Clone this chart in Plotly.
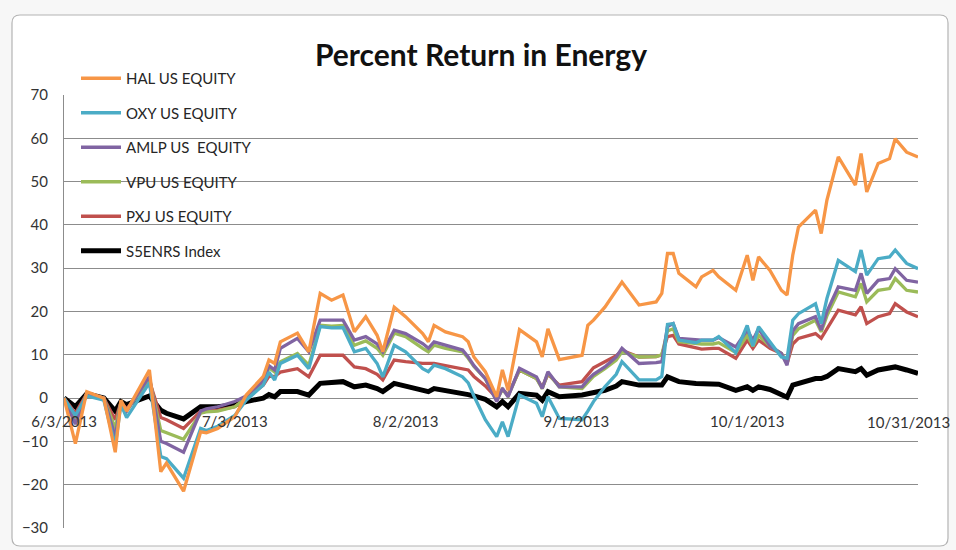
"""Percent return in energy names, Jun–Oct 2013 (Excel-style line chart)."""

import plotly.graph_objects as go

dates = [
    "2013-06-03", "2013-06-05", "2013-06-07", "2013-06-10", "2013-06-12", "2013-06-13",
    "2013-06-14", "2013-06-18", "2013-06-20", "2013-06-21", "2013-06-24", "2013-06-27",
    "2013-06-28", "2013-06-30", "2013-07-03", "2013-07-05", "2013-07-08", "2013-07-09",
    "2013-07-10", "2013-07-11", "2013-07-14", "2013-07-16", "2013-07-18", "2013-07-20",
    "2013-07-22", "2013-07-24", "2013-07-26", "2013-07-28", "2013-07-29", "2013-07-31",
    "2013-08-02", "2013-08-05", "2013-08-06", "2013-08-07", "2013-08-09", "2013-08-12",
    "2013-08-13", "2013-08-14", "2013-08-16", "2013-08-18", "2013-08-19", "2013-08-20",
    "2013-08-22", "2013-08-25", "2013-08-26", "2013-08-27", "2013-08-29", "2013-09-02",
    "2013-09-03", "2013-09-04", "2013-09-06", "2013-09-08", "2013-09-09", "2013-09-12",
    "2013-09-15", "2013-09-16", "2013-09-17", "2013-09-18", "2013-09-19", "2013-09-22",
    "2013-09-23", "2013-09-25", "2013-09-26", "2013-09-29", "2013-10-01", "2013-10-02",
    "2013-10-03", "2013-10-05", "2013-10-07", "2013-10-08", "2013-10-09", "2013-10-10",
    "2013-10-13", "2013-10-14", "2013-10-15", "2013-10-17", "2013-10-20", "2013-10-21",
    "2013-10-22", "2013-10-24", "2013-10-26", "2013-10-27", "2013-10-29", "2013-10-31",
]

hal = [
    0, -10.5, 1.5, 0, -12.5, -0.5, -3, 6.5, -17, -15, -21.5, -7.8,
    -8, -7, -4.3, 0.7, 5, 8.8, 8, 13, 15, 10.7, 24.2, 22.6,
    23.8, 15.3, 18.8, 14.5, 10.7, 21, 18.8, 14.9, 13, 16.8, 15.3, 14.2,
    13, 9.5, 6.1, 0.3, 6.5, 1.8, 15.8, 13, 9.5, 16, 8.9, 9.9,
    16.8, 18, 21, 24.9, 26.8, 21.5, 22.2, 24.2, 33.4, 33.4, 28.8, 25.7,
    28, 29.5, 28, 24.9, 33, 27.2, 32.6, 29.5, 24.9, 23.8, 33, 39.5,
    43.4, 38, 45.7, 55.7, 49.2, 56.5, 47.6, 54.2, 55.3, 59.9, 56.8, 55.7,
]
oxy = [
    0, -4, 0.5, -0.5, -11, -1.5, -4.5, 3.5, -13.5, -14, -18.5, -7,
    -7.5, -6.5, -4, -0.5, 3, 6, 4.2, 8, 9.9, 6.8, 16.5, 16.2,
    16.3, 10.7, 11.5, 8, 4.9, 12.2, 10.7, 6.8, 6.1, 7.6, 6.8, 4.9,
    3.5, 0.5, -5, -8.9, -5.5, -8.9, 0.7, -1.2, -4.3, 0.3, -4.7, -5,
    -3, -0.8, 2.6, 5.5, 8.4, 4.2, 4.2, 5, 17, 17.2, 13.4, 12.8,
    13.4, 13.4, 14.2, 10.5, 16.8, 12, 16.5, 13, 9.5, 9.2, 18, 19.5,
    21.8, 17.2, 23, 31.8, 29.2, 34.2, 28.4, 32.2, 32.6, 34.2, 31.1, 29.9,
]
amlp = [
    0, -6, 1, 0, -9, -1, -3, 5, -10, -10.5, -12.5, -3,
    -2.5, -2, -0.8, 0.5, 4, 7.5, 6.5, 11.5, 13.8, 10.7, 18, 18,
    18, 13.4, 14.2, 12.5, 10.7, 15.7, 14.9, 12.6, 11.5, 13, 12.2, 11.1,
    9.5, 7.5, 4.5, -0.8, 2.3, 0.3, 6.9, 4.9, 2.2, 6.1, 2.6, 2.6,
    4.2, 5.5, 7.2, 9.5, 11.5, 8, 8.2, 8.4, 16.5, 17.2, 13.8, 13.4,
    13.4, 13.4, 14, 11.8, 15.7, 13.4, 16, 12, 10.3, 7.6, 15.5, 17.2,
    18.8, 15.7, 20, 25.7, 24.9, 28.8, 24.2, 27.2, 27.6, 29.9, 27.2, 26.8,
]
vpu = [
    0, -5, 1, 0, -7, -1, -3, 4.5, -7.5, -8, -9.5, -3.5,
    -3.2, -3, -2, 0, 3.5, 7, 6, 8.4, 10.3, 7.6, 16.8, 16.6,
    16.8, 12.2, 13.2, 11.5, 9.9, 15, 14.2, 11.5, 10.7, 12.2, 11.5, 10.7,
    9.2, 7.3, 4.5, -0.5, 2, 0.5, 6.5, 4.5, 2.2, 5.8, 2.6, 2.2,
    3.5, 5, 6.8, 8.8, 10.7, 9.5, 9.6, 10, 15.5, 16, 13, 12.5,
    12.5, 12.5, 12.8, 10.5, 14.5, 12, 14.5, 12, 10.3, 8, 14.5, 16,
    18, 15.3, 19, 24.5, 23.4, 26.5, 22.2, 24.9, 25.3, 27.6, 24.9, 24.5,
]
pxj = [
    0, -3.5, 1, 0, -5, -1, -2.5, 4, -4.5, -5, -7, -3,
    -3, -2.8, -2, 0, 3, 5, 5, 6, 6.8, 4.9, 9.9, 9.9,
    9.9, 7.2, 6.8, 5.5, 4.2, 8.8, 8.4, 8, 8, 8, 7.5, 6.8,
    6.5, 5, 2.8, 0, 2, 0.8, 6.5, 4.5, 2.5, 5.5, 3, 3.8,
    5.5, 7, 8.4, 9.8, 11, 9.5, 9.6, 10, 14.2, 14.5, 12.5, 11.5,
    11.3, 11.5, 11.5, 9.2, 13.4, 11.5, 13.4, 11.5, 10.3, 8, 12.5, 13.8,
    14.9, 13.8, 16, 20.3, 19.2, 21.1, 17.2, 18.8, 19.5, 21.8, 19.9, 18.8,
]
s5enrs = [
    0, -2, 1, 0, -3, -0.8, -1.5, 0.5, -2.8, -3.5, -4.8, -2,
    -2, -2, -1.6, -0.8, 0, 0.8, 0.3, 1.5, 1.5, 0.7, 3.4, 3.6,
    3.8, 2.6, 3, 2.2, 1.5, 3.4, 2.8, 2, 1.5, 2.2, 1.8, 1.1,
    0.8, 0.5, -0.3, -2, -0.8, -2, 1.1, 0.7, -0.5, 1.5, 0.3, 0.7,
    1, 1.3, 1.8, 2.8, 3.8, 3, 3, 3, 4.9, 4.5, 3.8, 3.4,
    3.4, 3.4, 3.2, 1.8, 2.6, 1.8, 2.6, 2, 1, 0.2, 3, 3.4,
    4.5, 4.5, 5, 6.8, 6.1, 6.8, 5.3, 6.5, 6.8, 7.2, 6.5, 5.7,
]

series_names = ["HAL US EQUITY", "OXY US EQUITY", "AMLP US  EQUITY",
                "VPU US EQUITY", "PXJ US EQUITY", "S5ENRS Index"]
series_values = [hal, oxy, amlp, vpu, pxj, s5enrs]
series_colors = ["#F79646", "#4BACC6", "#8064A2", "#9BBB59", "#C0504D", "#000000"]
series_widths = [3.3, 3.3, 3.3, 3.3, 3.3, 5]

x_tick_dates = ["2013-06-03", "2013-07-03", "2013-08-02", "2013-09-01", "2013-10-01"]
x_tick_labels = ["6/3/2013", "7/3/2013", "8/2/2013", "9/1/2013", "10/1/2013"]
# Excel nudges the last label inwards so it stays inside the chart area
last_tick_date = "2013-10-31"
last_tick_label = "10/31/2013"

FONT = "Lato, 'Open Sans', sans-serif"
GRID = "#8c8c8c"

fig = go.Figure()
# draw the index first so the coloured lines sit on top of it
for rank in reversed(range(len(series_names))):
    fig.add_trace(
        go.Scatter(
            x=dates,
            y=series_values[rank],
            mode="lines",
            name=series_names[rank],
            legendgroup=series_names[rank],
            legendrank=rank + 1,
            line=dict(color=series_colors[rank], width=series_widths[rank]),
        )
    )

# chart-area frame with slightly rounded corners (paper coordinates)
W, H = 956, 550
ML, MR, MT, MB = 64, 38, 95, 22
pw, ph = W - ML - MR, H - MT - MB


def px(x):
    return (x - ML) / pw


def py(y):
    return (H - MB - y) / ph


x0, x1, y0, y1 = px(12), px(948), py(546), py(15)
rx, ry = 8 / pw, 8 / ph
frame = (
    f"M {x0 + rx},{y1} L {x1 - rx},{y1} Q {x1},{y1} {x1},{y1 - ry} "
    f"L {x1},{y0 + ry} Q {x1},{y0} {x1 - rx},{y0} L {x0 + rx},{y0} "
    f"Q {x0},{y0} {x0},{y0 + ry} L {x0},{y1 - ry} Q {x0},{y1} {x0 + rx},{y1} Z"
)

fig.update_layout(
    width=W,
    height=H,
    margin=dict(l=ML, r=MR, t=MT, b=MB),
    paper_bgcolor="#f7f7f7",
    plot_bgcolor="rgba(0,0,0,0)",
    font=dict(family=FONT, size=15, color="#333333"),
    title=dict(
        text="<b>Percent Return in Energy</b>",
        x=481 / W,
        xanchor="center",
        y=1 - 55 / H,
        yanchor="middle",
        font=dict(family=FONT, size=30, color="#111111"),
    ),
    shapes=[
        dict(type="path", path=frame, xref="paper", yref="paper",
             fillcolor="white", line=dict(color="#b4b4b4", width=1.2), layer="below"),
    ],
    annotations=[
        dict(x=last_tick_date, y=0, xref="x", yref="y", text=last_tick_label,
             showarrow=False, xanchor="right", yanchor="middle",
             xshift=34, yshift=-24, font=dict(size=15, color="#333333")),
    ],
    showlegend=True,
    legend=dict(
        x=px(76),
        xanchor="left",
        y=py(62),
        yanchor="top",
        bgcolor="rgba(0,0,0,0)",
        tracegroupgap=12,
        itemwidth=40,
        font=dict(family=FONT, size=15, color="#262626"),
    ),
    xaxis=dict(
        type="date",
        range=["2013-06-03", "2013-10-31"],
        tickmode="array",
        tickvals=x_tick_dates,
        ticktext=x_tick_labels,
        showgrid=False,
        zeroline=False,
        showline=False,
        anchor="free",
        position=0.3,
        automargin=False,
        ticks="",
        ticklabelstandoff=13,
        ticklabeloverflow="allow",
        tickfont=dict(size=15, color="#333333"),
    ),
    yaxis=dict(
        range=[-30, 70],
        dtick=10,
        showgrid=True,
        gridcolor=GRID,
        gridwidth=1,
        zeroline=False,
        showline=True,
        linecolor=GRID,
        linewidth=1,
        automargin=False,
        ticks="",
        ticklabelstandoff=12,
        tickfont=dict(size=15, color="#333333"),
    ),
)

# the page's default body margin would shift the whole chart by 8px
fig.write_html(
    "out.html",
    config={"displayModeBar": False},
    post_script="document.body.style.margin='0';",
)
